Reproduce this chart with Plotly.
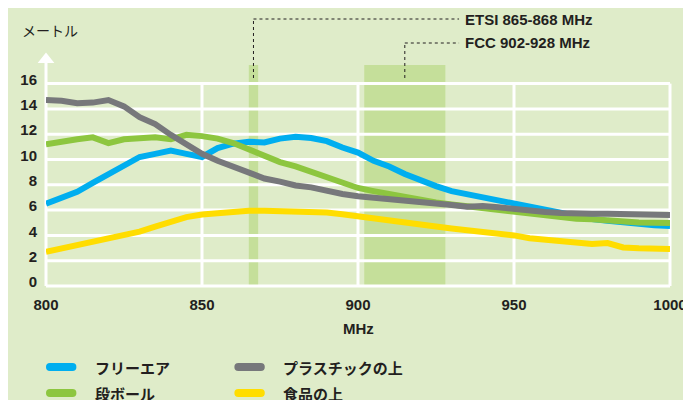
import plotly.graph_objects as go

# ---------------- data ----------------
freq = list(range(800, 1001, 5))  # MHz
free_air = [6.5, 7.0, 7.45, 8.15, 8.8, 9.45, 10.2, 10.45, 10.7, 10.45, 10.2,
            10.9, 11.25, 11.4, 11.35, 11.65, 11.8, 11.7, 11.45, 10.95, 10.55,
            9.9, 9.45, 8.85, 8.35, 7.9, 7.5, 7.25, 6.95, 6.7, 6.45,
            6.2, 5.95, 5.7, 5.5, 5.3, 5.15, 5.0, 4.88, 4.8, 4.75]
cardboard = [11.2, 11.45, 11.6, 11.75, 11.3, 11.6, 11.65, 11.75, 11.6, 11.95, 11.85,
             11.65, 11.3, 10.8, 10.4, 9.8, 9.45, 9.0, 8.55, 8.1, 7.75,
             7.5, 7.25, 7.05, 6.8, 6.6, 6.45, 6.3, 6.15, 6.0, 5.9,
             5.75, 5.62, 5.5, 5.32, 5.27, 5.17, 5.05, 5.02, 5.0, 4.98]
plastic = [14.7, 14.65, 14.45, 14.5, 14.7, 14.2, 13.35, 12.8, 11.95, 11.2, 10.45,
           9.9, 9.4, 8.95, 8.5, 8.25, 7.95, 7.8, 7.5, 7.27, 7.1,
           7.0, 6.85, 6.74, 6.6, 6.48, 6.4, 6.27, 6.33, 6.22, 6.08,
           5.97, 5.85, 5.78, 5.72, 5.72, 5.72, 5.72, 5.68, 5.64, 5.62]
food = [2.7, 2.95, 3.2, 3.45, 3.7, 3.95, 4.3, 4.7, 5.1, 5.45, 5.65,
        5.75, 5.93, 5.94, 5.94, 5.92, 5.89, 5.82, 5.81, 5.68, 5.5,
        5.35, 5.2, 5.0, 4.85, 4.7, 4.55, 4.42, 4.31, 4.18, 4.0,
        3.78, 3.65, 3.5, 3.4, 3.33, 3.4, 3.05, 2.98, 2.93, 2.93]

series_names = ["フリーエア", "段ボール", "プラスチックの上", "食品の上"]
series_values = [free_air, cardboard, plastic, food]
series_colors = ["#00aeef", "#8dc63f", "#77787b", "#ffdd00"]

x_ticks = [800, 850, 900, 950, 1000]
y_ticks = list(range(0, 17, 2))
etsi_band = (865, 868)
fcc_band = (902, 928)
etsi_label = "ETSI 865-868 MHz"
fcc_label = "FCC 902-928 MHz"
y_title = "メートル"
x_title = "MHz"

# ---------------- style ----------------
BG = "#dfecc9"
BAND = "#c5df9a"
TXT = "#231f20"
W, H = 691, 400
OFF = 8  # page body margin
PLOT_L, PLOT_B = 37, 286  # screen px of plot left / bottom
PW, PH = 636, 234
ML = PLOT_L - OFF
MT = PLOT_B - PH - OFF
MR = W - ML - PW
MB = H - MT - PH
YMAX = 18.5
LATIN = "Liberation Sans, Noto Sans CJK JP, sans-serif"
CJK = "Noto Sans CJK JP, sans-serif"


def px_x(px):
    return (px - PLOT_L) / PW


def px_y(py):
    return (PLOT_B - py) / PH


fig = go.Figure()
for name, vals, col in zip(series_names, series_values, series_colors):
    fig.add_trace(go.Scatter(x=freq, y=vals, mode="lines", name=name,
                             line=dict(color=col, width=6),
                             cliponaxis=False, showlegend=False))

shapes = []
# frequency bands
for b0, b1 in (etsi_band, fcc_band):
    shapes.append(dict(type="rect", xref="x", yref="paper", x0=b0, x1=b1,
                       y0=0, y1=px_y(65), fillcolor=BAND, line_width=0,
                       layer="below"))
# horizontal grid lines
for v in y_ticks:
    shapes.append(dict(type="line", xref="paper", yref="paper", x0=0, x1=1,
                       y0=v / YMAX, y1=v / YMAX,
                       line=dict(color="white", width=3), layer="below"))
# vertical grid lines
for v in x_ticks[1:]:
    xp = (v - x_ticks[0]) / (x_ticks[-1] - x_ticks[0])
    shapes.append(dict(type="line", xref="paper", yref="paper", x0=xp, x1=xp,
                       y0=0, y1=y_ticks[-1] / YMAX,
                       line=dict(color="white", width=3), layer="below"))
# y axis with arrow
shapes.append(dict(type="line", xref="paper", yref="paper", x0=0, x1=0,
                   y0=0, y1=px_y(62), line=dict(color="white", width=3),
                   layer="below"))
shapes.append(dict(type="path", xref="paper", yref="paper",
                   path=f"M {px_x(PLOT_L-8.5)} {px_y(63)} L {px_x(PLOT_L)} {px_y(52.5)} "
                        f"L {px_x(PLOT_L+8.5)} {px_y(63)} Z",
                   fillcolor="white", line_width=0, layer="below"))


# leader lines for band labels
def leader(xdata, ytop_px):
    xp = (xdata - x_ticks[0]) / (x_ticks[-1] - x_ticks[0])
    return [
        dict(type="line", xref="paper", yref="paper", x0=xp, x1=xp,
             y0=px_y(78), y1=px_y(ytop_px),
             line=dict(color=TXT, width=1, dash="dot")),
        dict(type="line", xref="paper", yref="paper", x0=xp, x1=px_x(458),
             y0=px_y(ytop_px), y1=px_y(ytop_px),
             line=dict(color=TXT, width=1, dash="dot")),
    ]


shapes += leader(sum(etsi_band) / 2, 19)
shapes += leader(sum(fcc_band) / 2, 43)


# custom legend bars (rounded)
def rounded_bar(x0, x1, yc, h):
    r = h / 2
    pts = [
        ("M", [(x0 + r, yc - r)]),
        ("L", [(x1 - r, yc - r)]),
        ("Q", [(x1, yc - r), (x1, yc)]),
        ("Q", [(x1, yc + r), (x1 - r, yc + r)]),
        ("L", [(x0 + r, yc + r)]),
        ("Q", [(x0, yc + r), (x0, yc)]),
        ("Q", [(x0, yc - r), (x0 + r, yc - r)]),
    ]
    s = ""
    for cmd, ps in pts:
        s += cmd + " " + " ".join(f"{px_x(a):.5f},{px_y(b):.5f}" for a, b in ps) + " "
    return s + "Z"


legend_pos = [(37, 367), (37, 393), (229, 367), (229, 393)]
annotations = []
for (lx, ly), name, col in zip(legend_pos, series_names, series_colors):
    shapes.append(dict(type="path", xref="paper", yref="paper",
                       path=rounded_bar(lx, lx + 31, ly, 8),
                       fillcolor=col, line_width=0))
    annotations.append(dict(x=px_x(lx + 48), y=px_y(ly), xref="paper", yref="paper",
                            text=name, showarrow=False, xanchor="left",
                            yanchor="middle",
                            font=dict(family=CJK, size=15, color=TXT, weight="bold")))

annotations += [
    dict(x=px_x(10), y=px_y(30), xref="paper", yref="paper", text=y_title,
         showarrow=False, xanchor="left", yanchor="middle",
         font=dict(family=CJK, size=14, color=TXT)),
    dict(x=px_x(462), y=px_y(19), xref="paper", yref="paper", text=etsi_label,
         showarrow=False, xanchor="left", yanchor="middle",
         font=dict(family=LATIN, size=15, color=TXT, weight="bold")),
    dict(x=px_x(462), y=px_y(43), xref="paper", yref="paper", text=fcc_label,
         showarrow=False, xanchor="left", yanchor="middle",
         font=dict(family=LATIN, size=15, color=TXT, weight="bold")),
    dict(x=px_x(356), y=px_y(328), xref="paper", yref="paper", text=x_title,
         showarrow=False, xanchor="center", yanchor="middle",
         font=dict(family=LATIN, size=15, color=TXT, weight="bold")),
]

fig.update_layout(
    width=W, height=H, autosize=False,
    margin=dict(l=ML, r=MR, t=MT, b=MB, pad=0),
    paper_bgcolor=BG, plot_bgcolor=BG,
    shapes=shapes, annotations=annotations, showlegend=False,
    font=dict(family=LATIN, color=TXT),
    xaxis=dict(range=[x_ticks[0], x_ticks[-1]], showgrid=False, zeroline=False,
               showline=False, tickmode="array", tickvals=x_ticks, ticks="",
               ticklabelstandoff=8,
               tickfont=dict(family=LATIN, size=15, color=TXT, weight="bold")),
    yaxis=dict(range=[0, YMAX], showgrid=False, zeroline=False, showline=False,
               tickmode="array", tickvals=y_ticks, ticks="",
               ticklabelstandoff=8, ticklabelshift=-4,
               tickfont=dict(family=LATIN, size=15, color=TXT, weight="bold")),
)

fig.write_html("out.html")
